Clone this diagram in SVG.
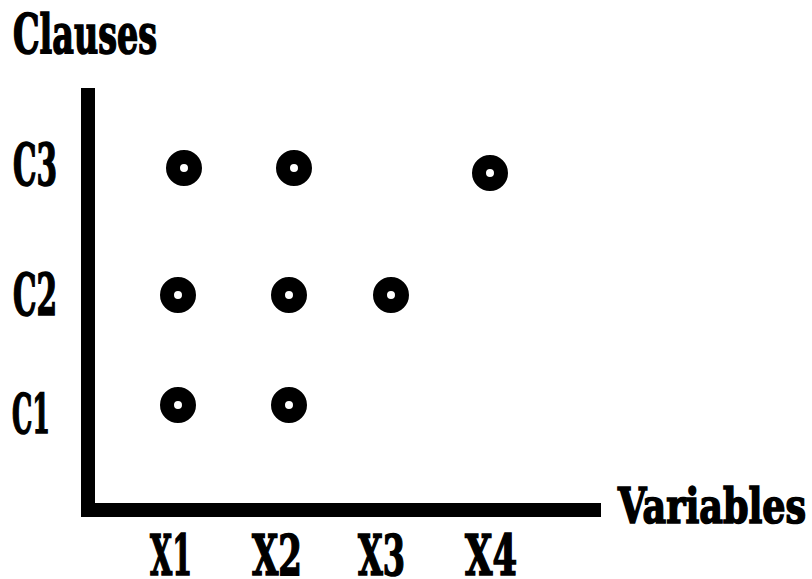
<svg xmlns="http://www.w3.org/2000/svg" width="812" height="579" viewBox="0 0 812 579">
<style>
.lbl{font-family:"DejaVu Serif Condensed","DejaVu Serif","Liberation Serif",serif;font-weight:bold;fill:#000;stroke:#000;stroke-width:1.6}
.dot{fill:none;stroke:#000;stroke-width:14}
</style>
<rect width="812" height="579" fill="#fff"/>
<g id="connectors">
<rect x="81" y="88" width="14" height="429" fill="#000"/>
<rect x="81" y="503" width="520" height="14" fill="#000"/>
</g>
<g id="labels">
<text class="lbl" x="13" y="53" font-size="55" textLength="144" lengthAdjust="spacingAndGlyphs">Clauses</text>
<text class="lbl" x="618" y="523" font-size="48" textLength="188" lengthAdjust="spacingAndGlyphs">Variables</text>
<text class="lbl" x="13" y="185" font-size="57" textLength="44" lengthAdjust="spacingAndGlyphs">C3</text>
<text class="lbl" x="13" y="315" font-size="57" textLength="44" lengthAdjust="spacingAndGlyphs">C2</text>
<text class="lbl" x="12" y="433" font-size="55" textLength="38" lengthAdjust="spacingAndGlyphs">C1</text>
<text class="lbl" x="150" y="575" font-size="56" textLength="42" lengthAdjust="spacingAndGlyphs">X1</text>
<text class="lbl" x="252" y="575" font-size="56" textLength="50" lengthAdjust="spacingAndGlyphs">X2</text>
<text class="lbl" x="358" y="575" font-size="56" textLength="47" lengthAdjust="spacingAndGlyphs">X3</text>
<text class="lbl" x="465" y="575" font-size="56" textLength="52" lengthAdjust="spacingAndGlyphs">X4</text>
</g>
<g id="c3x1"><circle class="dot" cx="184" cy="168" r="11"/></g>
<g id="c3x2"><circle class="dot" cx="294" cy="168" r="11"/></g>
<g id="c3x4"><circle class="dot" cx="490" cy="173" r="11"/></g>
<g id="c2x1"><circle class="dot" cx="178" cy="295" r="11"/></g>
<g id="c2x2"><circle class="dot" cx="289" cy="295" r="11"/></g>
<g id="c2x3"><circle class="dot" cx="391" cy="295" r="11"/></g>
<g id="c1x1"><circle class="dot" cx="178" cy="405" r="11"/></g>
<g id="c1x2"><circle class="dot" cx="289" cy="405" r="11"/></g>
</svg>
